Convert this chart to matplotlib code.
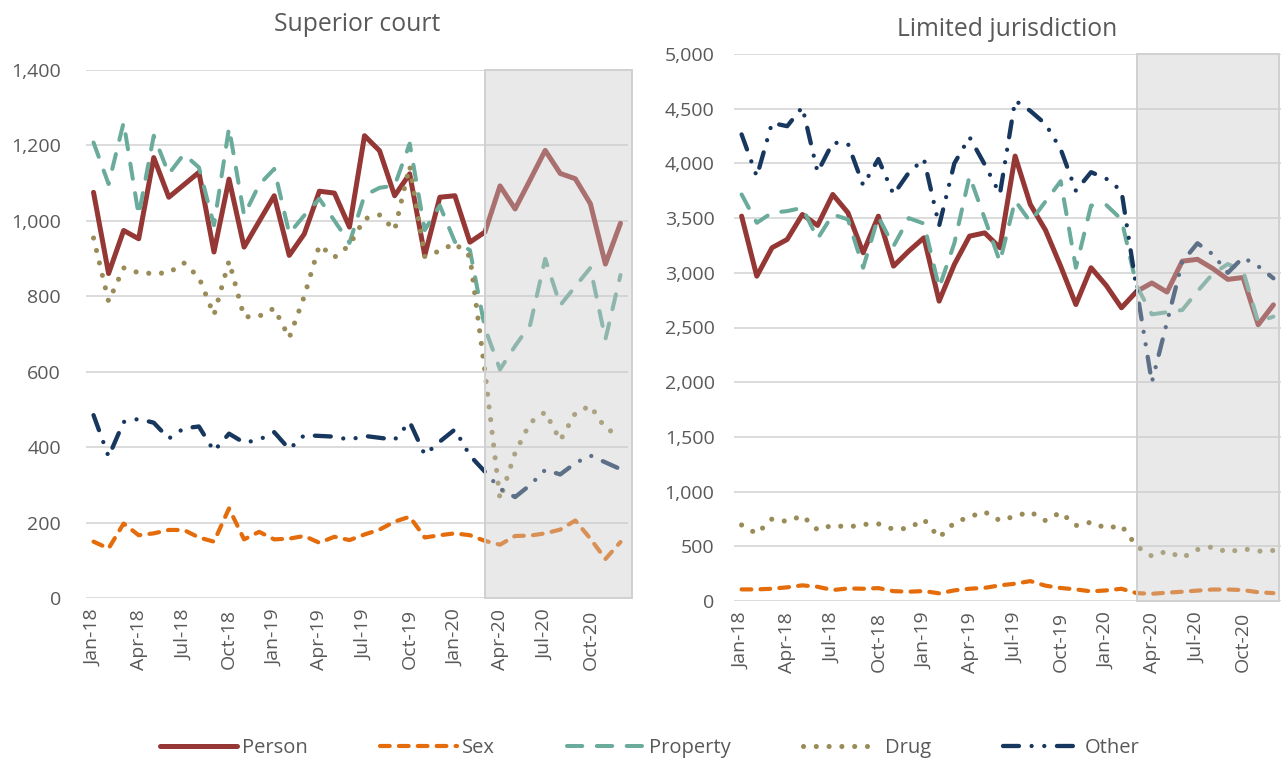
import matplotlib
matplotlib.use("Agg")
import matplotlib.pyplot as plt
from matplotlib.ticker import FuncFormatter, MultipleLocator

plt.rcParams['font.family'] = ['Open Sans', 'DejaVu Sans']
plt.rcParams['lines.scale_dashes'] = False

# ---------------- data ----------------
month_names = ["Jan", "Feb", "Mar", "Apr", "May", "Jun", "Jul", "Aug", "Sep", "Oct", "Nov", "Dec"]
years = ["18", "19", "20"]
months = [f"{m}-{y}" for y in years for m in month_names]
tick_step = 3
shade_start = "Mar-20"

series_names = ["Person", "Sex", "Property", "Drug", "Other"]

superior_person = [1075, 860, 974, 952, 1167, 1062, 1095, 1128, 917, 1110, 930, 998, 1066, 908, 965, 1078, 1073, 983,
                   1225, 1185, 1066, 1124, 908, 1062, 1066, 943, 970, 1092, 1031, 1108, 1186, 1125, 1111, 1045, 885, 993]
superior_sex = [150, 132, 198, 167, 172, 181, 181, 161, 150, 238, 156, 176, 156, 158, 165, 147, 163, 154,
                169, 182, 203, 216, 161, 167, 172, 167, 152, 142, 165, 166, 172, 182, 206, 158, 104, 149]
superior_property = [1207, 1097, 1260, 1014, 1225, 1124, 1176, 1141, 988, 1246, 1014, 1095, 1137, 966, 1014, 1058, 1000, 941,
                     1067, 1087, 1093, 1204, 975, 1040, 944, 922, 715, 606, 668, 724, 899, 776, 826, 875, 686, 856]
superior_drug = [954, 786, 875, 862, 860, 862, 888, 850, 750, 893, 745, 747, 768, 690, 800, 935, 903, 935,
                 1005, 1015, 975, 1145, 905, 920, 940, 905, 600, 262, 385, 465, 493, 418, 490, 510, 450, 430]
superior_other = [485, 375, 467, 475, 465, 423, 450, 455, 390, 436, 412, 420, 440, 395, 432, 430, 428, 420,
                  430, 425, 420, 467, 380, 415, 447, 378, 335, 290, 268, 300, 340, 328, 358, 378, 360, 342]

limited_person = [3518, 2969, 3229, 3305, 3533, 3433, 3716, 3549, 3183, 3518, 3061, 3198, 3320, 2741, 3076, 3335, 3365, 3229,
                  4067, 3625, 3390, 3060, 2710, 3046, 2884, 2680, 2830, 2907, 2824, 3106, 3123, 3040, 2940, 2957, 2525, 2707]
limited_sex = [106, 106, 112, 125, 143, 130, 100, 115, 112, 118, 90, 85, 91, 70, 97, 112, 120, 143,
               158, 182, 140, 119, 106, 88, 97, 112, 72, 66, 76, 85, 95, 105, 105, 100, 80, 72]
limited_property = [3716, 3457, 3549, 3564, 3594, 3311, 3533, 3488, 3046, 3512, 3244, 3500, 3450, 2863, 3270, 3884, 3497, 3100,
                    3660, 3466, 3652, 3838, 3046, 3615, 3620, 3488, 2880, 2620, 2640, 2660, 2830, 2990, 3080, 3020, 2550, 2600]
limited_drug = [695, 615, 750, 727, 780, 650, 693, 675, 700, 705, 655, 665, 745, 580, 715, 770, 815, 735,
                775, 815, 735, 810, 690, 720, 665, 690, 500, 410, 455, 395, 470, 495, 445, 478, 455, 462]
limited_other = [4265, 3880, 4370, 4340, 4515, 3920, 4190, 4180, 3800, 4040, 3716, 3915, 4040, 3430, 4000, 4240, 3990, 3720,
                 4575, 4480, 4360, 4130, 3750, 3920, 3860, 3750, 2850, 2000, 2550, 3100, 3270, 3170, 3000, 3140, 3060, 2950]

# ---------------- styles ----------------
styles = {
    "Person":   dict(color="#953735", lw=3.6, ls="-"),
    "Sex":      dict(color="#E46C0A", lw=3.0, ls=(0, (7, 6.6))),
    "Property": dict(color="#6AAB9B", lw=2.9, ls=(0, (11, 10.5))),
    "Drug":     dict(color="#9A8C58", lw=3.7, ls=(0, (0.01, 9.2))),
    "Other":    dict(color="#17375E", lw=3.1, ls=(0, (11.5, 9.1, 0.01, 9.1, 0.01, 9.1))),
}
text_color = "#595959"
grid_color = "#D9D9D9"

fig = plt.figure(figsize=(12.87, 7.66), dpi=100)

def draw(ax, data, ymax, ystep, title, title_pad, ylab_pad, shade_right):
    x = list(range(len(months)))
    handles = []
    for name in series_names:
        st = styles[name]
        h, = ax.plot(x, data[name], color=st["color"], lw=st["lw"], linestyle=st["ls"],
                     dash_capstyle="round", solid_capstyle="round",
                     dash_joinstyle="round", solid_joinstyle="round", label=name, zorder=3)
        handles.append(h)
    s = months.index(shade_start)
    ax.axvspan(s, shade_right, ymin=0, ymax=1, facecolor="#C8C8C8", alpha=0.4,
               edgecolor="none", zorder=6, clip_on=False)
    ax.axvspan(s, shade_right, ymin=0, ymax=1, facecolor="none", edgecolor="#D0D0D0",
               lw=1.4, zorder=7, clip_on=False)
    ax.set_xlim(-0.5, len(months) - 0.5)
    ax.set_ylim(0, ymax)
    ax.yaxis.set_major_locator(MultipleLocator(ystep))
    ax.yaxis.set_major_formatter(FuncFormatter(lambda v, p: f"{v:,.0f}"))
    ticks = list(range(0, len(months), tick_step))
    ax.set_xticks(ticks)
    ax.set_xticklabels([months[i] for i in ticks], rotation=90)
    ax.tick_params(axis="y", length=0, pad=ylab_pad, labelsize=14, labelcolor=text_color)
    ax.tick_params(axis="x", length=0, pad=8, labelsize=14, labelcolor=text_color)
    for sp in ax.spines.values():
        sp.set_visible(False)
    ax.grid(axis="y", color=grid_color, lw=1.3)
    ax.set_axisbelow(True)
    ax.set_title(title, fontsize=17.8, color=text_color, pad=title_pad)
    return handles

ax1 = fig.add_axes([86 / 1287, 1 - 598.3 / 766, 542 / 1287, 528.7 / 766])
ax2 = fig.add_axes([734 / 1287, 1 - 601 / 766, 547 / 1287, 547 / 766])

sup = {"Person": superior_person, "Sex": superior_sex, "Property": superior_property,
       "Drug": superior_drug, "Other": superior_other}
lim = {"Person": limited_person, "Sex": limited_sex, "Property": limited_property,
       "Drug": limited_drug, "Other": limited_other}

handles = draw(ax1, sup, 1400, 200, "Superior court", 28, 18, 35.78)
draw(ax2, lim, 5000, 500, "Limited jurisdiction", 13, 14, 35.35)

fig.legend(handles, series_names, loc="center", bbox_to_anchor=(0.505, 0.024), ncol=5,
           frameon=False, fontsize=14.5, labelcolor=text_color, handlelength=3.8,
           handletextpad=0.25, columnspacing=3.6)

fig.savefig("out.png", dpi=100, facecolor="white")
